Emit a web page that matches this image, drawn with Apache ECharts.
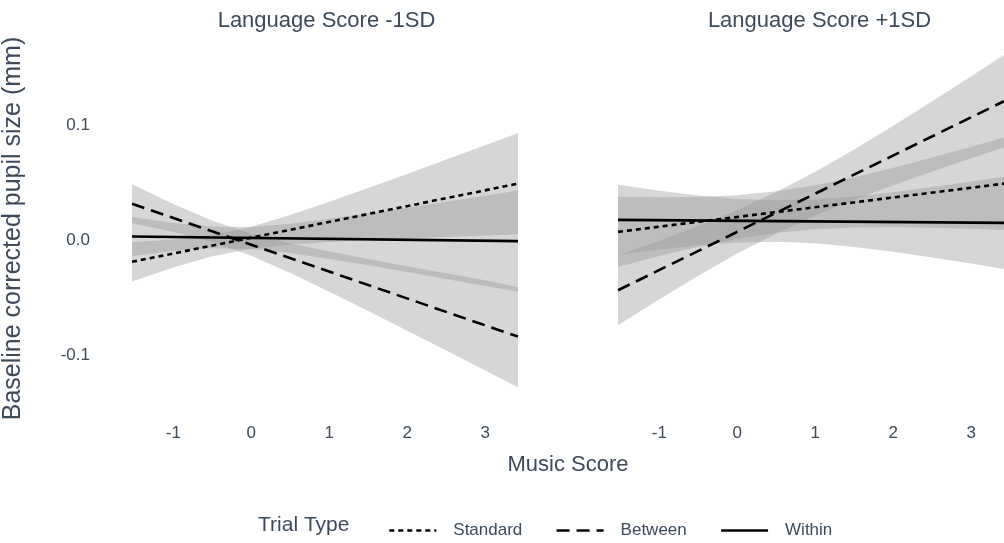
<!DOCTYPE html>
<html>
<head>
<meta charset="utf-8">
<script src="https://cdn.jsdelivr.net/npm/echarts@6/dist/echarts.min.js"></script>
<style>html,body{margin:0;padding:0;background:#fff}#c{width:1004px;height:543px}</style>
</head>
<body>
<div id="c"></div>
<script>
// ---- data ----
const panelTitles = ['Language Score -1SD', 'Language Score +1SD'];
const seriesNames = ['Standard', 'Between', 'Within'];
const xTicks = [-1, 0, 1, 2, 3];
const yTicks = [-0.1, 0, 0.1];

// x positions where ribbon bounds were read
const ribbonX = [-1.53, -1, -0.5, 0, 0.5, 1, 1.5, 2, 2.5, 3, 3.42];
// fitted lines: value at first and last x
const lineX = [-1.53, 3.42];

// Panel 1: Language Score -1SD
const lowStdLine = [-0.019, 0.049];
const lowBetLine = [0.0315, -0.084];
const lowWitLine = [0.003, -0.001];
const lowStdLo = [-0.036, -0.0239, -0.0142, -0.0076, -0.0039, -0.0017, 0.0000, 0.0015, 0.0028, 0.0040, 0.005];
const lowStdHi = [-0.002, 0.0005, 0.0044, 0.0116, 0.0217, 0.0333, 0.0452, 0.0575, 0.0700, 0.0824, 0.093];
const lowBetLo = [0.0145, 0.0069, -0.0018, -0.0138, -0.0287, -0.0450, -0.0618, -0.0789, -0.0961, -0.1134, -0.128];
const lowBetHi = [0.0485, 0.0313, 0.0168, 0.0054, -0.0031, -0.0100, -0.0166, -0.0229, -0.0289, -0.0350, -0.041];
const lowWitLo = [-0.014, -0.0096, -0.0071, -0.0078, -0.0114, -0.0165, -0.0220, -0.0279, -0.0339, -0.0399, -0.045];
const lowWitHi = [0.020, 0.0148, 0.0115, 0.0114, 0.0142, 0.0185, 0.0232, 0.0281, 0.0333, 0.0385, 0.043];

// Panel 2: Language Score +1SD
const highStdLine = [0.0071, 0.049];
const highBetLine = [-0.0437, 0.1207];
const highWitLine = [0.0175, 0.0149];
const highStdLo = [-0.0234, -0.0139, -0.0058, 0.0011, 0.0063, 0.0094, 0.0108, 0.0110, 0.0106, 0.0097, 0.0088];
const highStdHi = [0.0376, 0.0371, 0.0374, 0.0389, 0.0423, 0.0476, 0.0546, 0.0628, 0.0718, 0.0811, 0.0892];
const highBetLo = [-0.0742, -0.0516, -0.0311, -0.0118, 0.0057, 0.0212, 0.0350, 0.0476, 0.0595, 0.0710, 0.0805];
const highBetHi = [-0.0132, -0.0006, 0.0121, 0.0260, 0.0417, 0.0594, 0.0788, 0.0994, 0.1207, 0.1424, 0.1609];
const highWitLo = [-0.0130, -0.0082, -0.0046, -0.0022, -0.0015, -0.0029, -0.0060, -0.0102, -0.0152, -0.0205, -0.0253];
const highWitHi = [0.0480, 0.0428, 0.0386, 0.0356, 0.0345, 0.0353, 0.0378, 0.0416, 0.0460, 0.0509, 0.0551];

// ---- styling ----
const FONT = 'Liberation Sans, Arial, sans-serif';
const TXT = '#3c4a5a';
const BAND = 'rgba(153,153,153,0.4)';
const dashTypes = {Standard: [5, 4], Between: [13, 7], Within: 'solid'};

function band(gi, lo, hi) {
  const data = ribbonX.map((x, i) => [x, lo[i], hi[i]]);
  return {
    type: 'custom', xAxisIndex: gi, yAxisIndex: gi, silent: true, z: 1,
    data: data, encode: {x: 0, y: [1, 2]},
    renderItem: function (params, api) {
      if (params.dataIndex !== 0) return;
      const pts = [];
      for (let i = 0; i < data.length; i++) pts.push(api.coord([data[i][0], data[i][1]]));
      for (let i = data.length - 1; i >= 0; i--) pts.push(api.coord([data[i][0], data[i][2]]));
      return {type: 'polygon', shape: {points: pts}, style: {fill: BAND}};
    }
  };
}
function line(gi, name, ys) {
  return {
    type: 'line', name: name, xAxisIndex: gi, yAxisIndex: gi, z: 5,
    data: lineX.map((x, i) => [x, ys[i]]),
    symbol: 'none', showSymbol: false, silent: true,
    lineStyle: {color: '#000', width: 2.6, type: dashTypes[name]},
    itemStyle: {color: '#000'}
  };
}

const gridLeft = [125, 618];
const gridWidth = 393;
const yMin = -0.15, yMax = 0.17;

const option = {
  animation: false,
  backgroundColor: '#fff',
  textStyle: {fontFamily: FONT},
  title: panelTitles.map((t, i) => ({
    text: t, left: gridLeft[i] + gridWidth / 2, top: 5, textAlign: 'center',
    textStyle: {fontFamily: FONT, fontSize: 22, fontWeight: 'normal', color: TXT}
  })),
  grid: gridLeft.map(l => ({left: l, width: gridWidth, top: 44.5, height: 368})),
  xAxis: [0, 1].map(i => ({
    type: 'value', gridIndex: i, min: lineX[0], max: lineX[1],
    axisLine: {show: false}, axisTick: {show: false}, splitLine: {show: false},
    axisLabel: {customValues: xTicks, margin: 12, fontSize: 17, color: TXT, fontFamily: FONT,
      formatter: v => String(v)}
  })),
  yAxis: [0, 1].map(i => ({
    type: 'value', gridIndex: i, min: yMin, max: yMax,
    axisLine: {show: false}, axisTick: {show: false}, splitLine: {show: false},
    axisLabel: {show: i === 0, customValues: yTicks, margin: 42, fontSize: 17, color: TXT, fontFamily: FONT,
      formatter: v => v.toFixed(1)},
    name: i === 0 ? 'Baseline corrected pupil size (mm)' : '',
    nameLocation: 'middle', nameRotate: 90, nameGap: 106,
    nameTextStyle: {fontSize: 25, color: TXT, fontFamily: FONT}
  })),
  legend: {
    data: seriesNames, left: 383, top: 517, itemWidth: 47, itemHeight: 14, itemGap: 33,
    itemStyle: {opacity: 0},
    lineStyle: {color: '#000', width: 2.6},
    textStyle: {fontSize: 17, color: TXT, fontFamily: FONT, padding: [0, 0, 0, 12]},
    selectedMode: false
  },
  graphic: [
    {type: 'text', left: 258, top: 515, style: {text: 'Trial Type', font: '21px ' + FONT, fill: TXT}},
    {type: 'text', x: 568, y: 465, style: {text: 'Music Score', font: '22px ' + FONT, fill: TXT, textAlign: 'center', textVerticalAlign: 'middle'}}
  ],
  series: [
    band(0, lowStdLo, lowStdHi), band(0, lowBetLo, lowBetHi), band(0, lowWitLo, lowWitHi),
    band(1, highStdLo, highStdHi), band(1, highBetLo, highBetHi), band(1, highWitLo, highWitHi),
    line(0, 'Standard', lowStdLine), line(0, 'Between', lowBetLine), line(0, 'Within', lowWitLine),
    line(1, 'Standard', highStdLine), line(1, 'Between', highBetLine), line(1, 'Within', highWitLine)
  ]
};

const chart = echarts.init(document.getElementById('c'), null, {renderer: 'canvas'});
chart.setOption(option);
</script>
</body>
</html>
